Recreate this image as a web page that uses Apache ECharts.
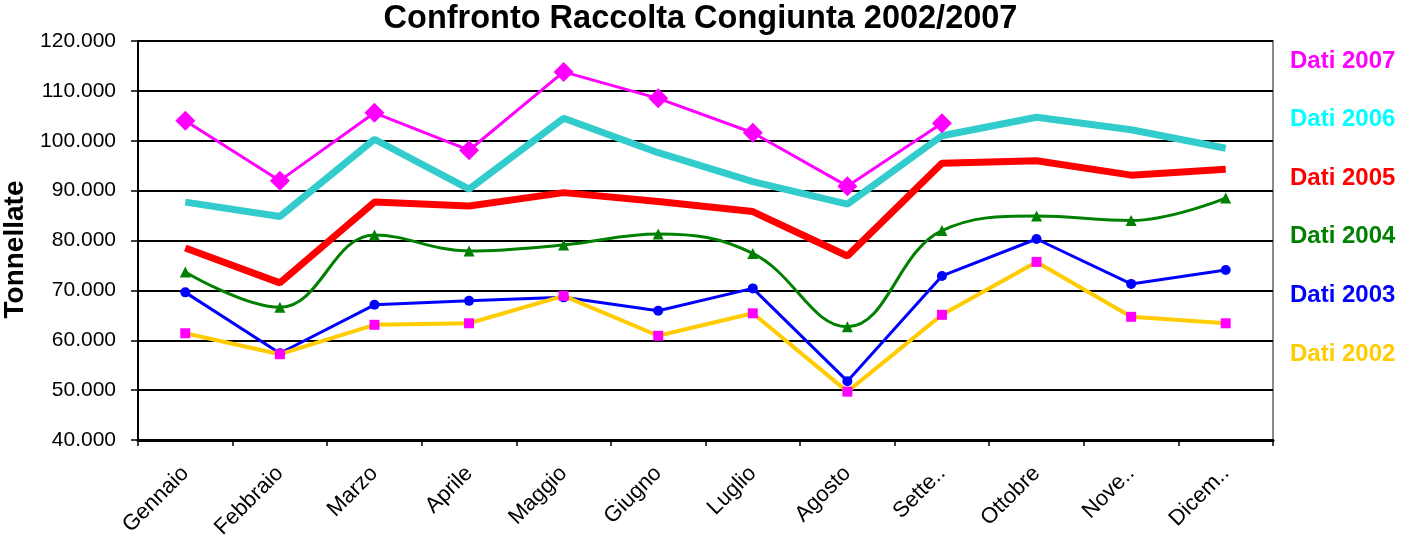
<!DOCTYPE html>
<html>
<head>
<meta charset="utf-8">
<script src="https://cdn.jsdelivr.net/npm/echarts@6/dist/echarts.min.js"></script>
<style>
html,body{margin:0;padding:0;background:#fff;}
#chart{width:1401px;height:539px;}
</style>
</head>
<body>
<div id="chart"></div>
<script>
const categories = ['Gennaio','Febbraio','Marzo','Aprile','Maggio','Giugno','Luglio','Agosto','Sette..','Ottobre','Nove..','Dicem..'];
const dati2007 = [104000, 92000, 105600, 98100, 113800, 108500, 101600, 90900, 103500, null, null, null];
const dati2006 = [87700, 84800, 100300, 90300, 104500, 97600, 91800, 87300, 101000, 104700, 102200, 98500];
const dati2005 = [78500, 71500, 87700, 86900, 89600, 87800, 85800, 76900, 95500, 96000, 93100, 94300];
const dati2004 = [73700, 66600, 81100, 77900, 79100, 81300, 77400, 62700, 82000, 84900, 84000, 88500];
const dati2003 = [69600, 57400, 67100, 67900, 68600, 65900, 70400, 51800, 72900, 80300, 71300, 74100];
const dati2002 = [61400, 57200, 63100, 63400, 68900, 60900, 65400, 49700, 65100, 75700, 64700, 63400];
const yTicks = {min: 40000, max: 120000, interval: 10000};

function fmt(v){ return String(v).replace(/\B(?=(\d{3})+(?!\d))/g, '.'); }

const chart = echarts.init(document.getElementById('chart'), null, {renderer:'canvas'});
const FONT = 'Liberation Sans, Arial, sans-serif';
chart.setOption({
  animation: false,
  backgroundColor: '#fff',
  title: {
    text: 'Confronto Raccolta Congiunta 2002/2007',
    left: 'center', top: -2,
    textStyle: {fontFamily: FONT, fontWeight: 'bold', fontSize: 32.5, color: '#000'}
  },
  legend: {
    orient: 'vertical',
    left: 1280, top: 44,
    itemGap: 34.6,
    itemWidth: 0, itemHeight: 0,
    icon: 'none',
    selectedMode: false,
    textStyle: {fontFamily: FONT, fontWeight: 'bold', fontSize: 24},
    data: [
      {name: 'Dati 2007', textStyle: {color: '#FF00FF'}},
      {name: 'Dati 2006', textStyle: {color: '#00FFFF'}},
      {name: 'Dati 2005', textStyle: {color: '#FF0000'}},
      {name: 'Dati 2004', textStyle: {color: '#008000'}},
      {name: 'Dati 2003', textStyle: {color: '#0000FF'}},
      {name: 'Dati 2002', textStyle: {color: '#FFCC00'}}
    ]
  },
  grid: {
    left: 138, right: 128, top: 41, bottom: 99,
    outerBoundsMode: 'none',
    containLabel: false,
    show: true, borderColor: '#888', borderWidth: 2, backgroundColor: '#fff'
  },
  xAxis: {
    type: 'category',
    data: categories,
    boundaryGap: true,
    axisLine: {lineStyle: {color: '#000', width: 3}},
    axisTick: {show: true, inside: false, length: 6, lineStyle: {color: '#000', width: 1.5}},
    axisLabel: {rotate: 45, fontFamily: FONT, fontSize: 22, color: '#000', margin: 30, interval: 0}
  },
  yAxis: {
    type: 'value',
    min: yTicks.min, max: yTicks.max, interval: yTicks.interval,
    name: 'Tonnellate',
    nameLocation: 'middle',
    nameGap: 102,
    nameTextStyle: {fontFamily: FONT, fontWeight: 'bold', fontSize: 28, color: '#000', padding: [0, 18, 0, 0]},
    axisLine: {show: true, lineStyle: {color: '#000', width: 2}},
    axisTick: {show: true, length: 7, lineStyle: {color: '#000', width: 1.5}},
    axisLabel: {fontFamily: FONT, fontSize: 21, color: '#000', margin: 22, formatter: fmt},
    splitLine: {show: true, lineStyle: {color: '#000', width: 2}}
  },
  series: [
    {name: 'Dati 2006', type: 'line', data: dati2006, symbol: 'none',
     lineStyle: {color: '#33CCCC', width: 7}, itemStyle: {color: '#33CCCC'}},
    {name: 'Dati 2005', type: 'line', data: dati2005, symbol: 'none',
     lineStyle: {color: '#FF0000', width: 7}, itemStyle: {color: '#FF0000'}},
    {name: 'Dati 2004', type: 'line', data: dati2004, smooth: 0.4, symbol: 'triangle', symbolSize: 11,
     lineStyle: {color: '#008000', width: 3}, itemStyle: {color: '#008000'}},
    {name: 'Dati 2003', type: 'line', data: dati2003, symbol: 'circle', symbolSize: 10,
     lineStyle: {color: '#0000FF', width: 3}, itemStyle: {color: '#0000FF'}},
    {name: 'Dati 2002', type: 'line', data: dati2002, symbol: 'rect', symbolSize: 10,
     lineStyle: {color: '#FFCC00', width: 4}, itemStyle: {color: '#FF00FF'}},
    {name: 'Dati 2007', type: 'line', data: dati2007, symbol: 'diamond', symbolSize: 20,
     lineStyle: {color: '#FF00FF', width: 3}, itemStyle: {color: '#FF00FF'}}
  ]
});
</script>
</body>
</html>
